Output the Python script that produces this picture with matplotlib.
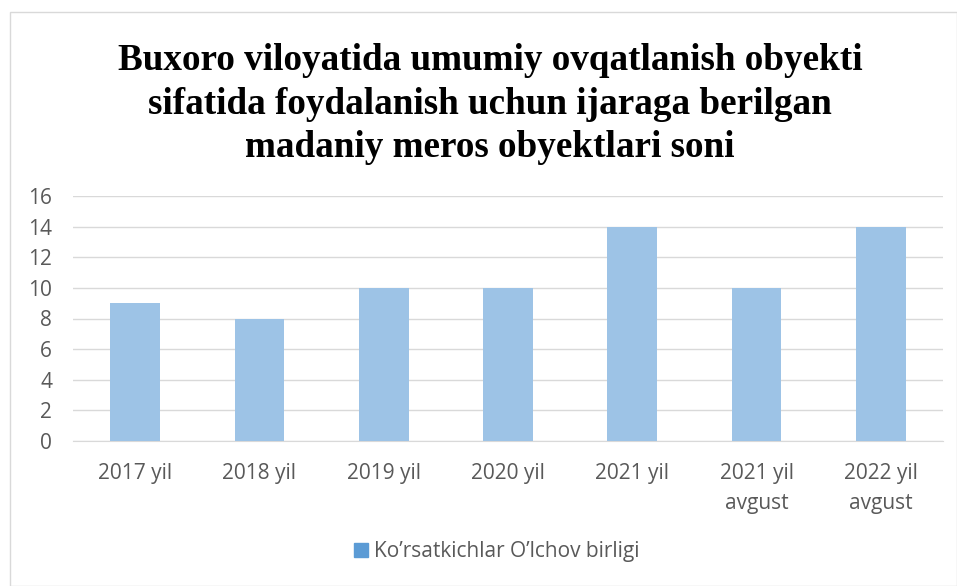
import matplotlib
matplotlib.use("Agg")
import matplotlib.pyplot as plt
from matplotlib.patches import Rectangle
from matplotlib.lines import Line2D

categories = ["2017 yil", "2018 yil", "2019 yil", "2020 yil", "2021 yil", "2021 yil\navgust", "2022 yil\navgust"]
values = [9, 8, 10, 10, 14, 10, 14]
yticks = [0, 2, 4, 6, 8, 10, 12, 14, 16]
series_name = "Ko\u2019rsatkichlar O\u2019lchov birligi"
title = "Buxoro viloyatida umumiy ovqatlanish obyekti\nsifatida foydalanish uchun ijaraga berilgan\nmadaniy meros obyektlari soni"

fig = plt.figure(figsize=(9.57, 5.86), dpi=100)
fig.patch.set_facecolor("white")
fig.add_artist(Rectangle((10/957, 0.0), (957-10)/957, (586-12)/586,
                         transform=fig.transFigure, fill=False, edgecolor="#d9d9d9", linewidth=1))

ax = fig.add_axes([73/957, 1 - 441/586, (943-73)/957, (441-196)/586])
x = list(range(len(categories)))
ax.bar(x, values, width=0.4, color="#9DC3E6", zorder=3)
ax.set_xlim(-0.5, len(categories) - 0.5)
ax.set_ylim(0, 16)
ax.set_yticks(yticks)
ax.set_yticklabels([str(t) for t in yticks])
ax.set_xticks(x)
ax.set_xticklabels(categories, linespacing=1.55)
ax.yaxis.grid(True, color="#d9d9d9", linewidth=1, zorder=0)
for s in ["top", "right", "left"]:
    ax.spines[s].set_visible(False)
ax.spines["bottom"].set_color("#d9d9d9")
ax.tick_params(axis="both", length=0, colors="#595959", labelsize=15)
ax.tick_params(axis="x", pad=16)
ax.tick_params(axis="y", pad=15)
for lbl in ax.get_xticklabels() + ax.get_yticklabels():
    lbl.set_family(["Open Sans", "DejaVu Sans"])
    lbl.set_color("#595959")

fig.text(490/957, 1 - 104/586, title, ha="center", va="center",
         fontsize=26.7, fontweight="bold", family=["Liberation Serif", "DejaVu Serif"],
         linespacing=1.3, color="black")

handle = Line2D([], [], marker="s", linestyle="none", markersize=10,
                markerfacecolor="#5B9BD5", markeredgecolor="#5B9BD5")
fig.legend([handle], [series_name], loc="center", bbox_to_anchor=(495/957, 1 - 552/586),
           frameon=False, prop={"family": ["Open Sans", "DejaVu Sans"], "size": 15},
           labelcolor="#595959", handletextpad=0.1, handlelength=1.0)

fig.savefig("out.png", dpi=100, facecolor="white")
